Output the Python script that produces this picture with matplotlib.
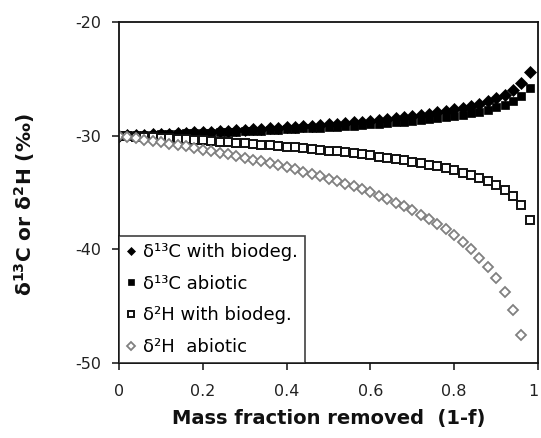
import matplotlib
matplotlib.use("Agg")
import matplotlib.pyplot as plt
from matplotlib.ticker import FuncFormatter
from matplotlib.transforms import ScaledTranslation

plt.rcParams['font.family'] = ['DejaVu Sans']
plt.rcParams['axes.unicode_minus'] = False
plt.rcParams['mathtext.default'] = 'bf'

# Mass fraction removed (1-f), step 0.02
mass_removed = [round(0.02 * i, 2) for i in range(50)]

# delta13C with biodegradation
c13_biodeg = [-30.00, -29.97, -29.94, -29.91, -29.88, -29.85, -29.82, -29.78, -29.75, -29.72,
              -29.68, -29.64, -29.61, -29.57, -29.53, -29.49, -29.45, -29.41, -29.36, -29.32,
              -29.27, -29.22, -29.17, -29.12, -29.06, -29.01, -28.95, -28.89, -28.83, -28.76,
              -28.69, -28.62, -28.54, -28.46, -28.37, -28.28, -28.18, -28.07, -27.96, -27.83,
              -27.70, -27.55, -27.38, -27.19, -26.97, -26.71, -26.39, -25.98, -25.40, -24.41]

# delta13C abiotic
c13_abiotic = [-30.00, -29.98, -29.96, -29.93, -29.91, -29.89, -29.86, -29.84, -29.81, -29.79,
               -29.76, -29.73, -29.70, -29.67, -29.65, -29.61, -29.58, -29.55, -29.52, -29.48,
               -29.45, -29.41, -29.37, -29.33, -29.29, -29.25, -29.21, -29.16, -29.11, -29.06,
               -29.01, -28.95, -28.90, -28.83, -28.77, -28.70, -28.63, -28.55, -28.46, -28.36,
               -28.26, -28.15, -28.02, -27.88, -27.71, -27.51, -27.27, -26.96, -26.52, -25.78]

# delta2H with biodegradation
h2_biodeg = [-30.00, -30.04, -30.08, -30.12, -30.16, -30.20, -30.24, -30.29, -30.33, -30.38,
             -30.42, -30.47, -30.52, -30.57, -30.62, -30.68, -30.73, -30.79, -30.85, -30.91,
             -30.97, -31.03, -31.10, -31.17, -31.24, -31.32, -31.39, -31.48, -31.56, -31.65,
             -31.74, -31.84, -31.94, -32.05, -32.16, -32.29, -32.42, -32.56, -32.71, -32.88,
             -33.06, -33.26, -33.48, -33.74, -34.03, -34.37, -34.80, -35.35, -36.12, -37.43]

# delta2H abiotic (ends at 0.96)
h2_abiotic = [-30.00, -30.11, -30.22, -30.34, -30.45, -30.57, -30.70, -30.82, -30.95, -31.08,
              -31.22, -31.35, -31.50, -31.64, -31.79, -31.94, -32.10, -32.26, -32.43, -32.61,
              -32.78, -32.97, -33.16, -33.36, -33.56, -33.78, -34.00, -34.23, -34.47, -34.73,
              -34.99, -35.27, -35.57, -35.88, -36.21, -36.56, -36.94, -37.34, -37.78, -38.25,
              -38.77, -39.35, -39.99, -40.72, -41.56, -42.55, -43.76, -45.33, -47.54]

labels = ["δ¹³C with biodeg.", "δ¹³C abiotic", "δ²H with biodeg.", "δ²H  abiotic"]
x_ticks = [0, 0.2, 0.4, 0.6, 0.8, 1]
y_ticks = [-50, -40, -30, -20]

fig = plt.figure(figsize=(5.41, 4.38), dpi=100)
ax = fig.add_axes([0.22, 0.171, 0.7745, 0.779])

ax.plot(mass_removed, c13_biodeg, linestyle='none', marker='D', ms=6.0,
        mfc='black', mec='black', mew=0.5, label=labels[0])
ax.plot(mass_removed, c13_abiotic, linestyle='none', marker='s', ms=5.6,
        mfc='black', mec='black', mew=0.5, label=labels[1])
ax.plot(mass_removed, h2_biodeg, linestyle='none', marker='s', ms=6.2,
        mfc='white', mec='#111111', mew=1.4, label=labels[2])
ax.plot(mass_removed[:len(h2_abiotic)], h2_abiotic, linestyle='none', marker='D', ms=5.6,
        mfc='white', mec='#808080', mew=1.3, label=labels[3])

ax.set_xlim(0, 1)
ax.set_ylim(-50, -20)
ax.set_xticks(x_ticks)
ax.set_yticks(y_ticks)
ax.xaxis.set_major_formatter(FuncFormatter(lambda v, p: f"{v:g}"))
ax.tick_params(direction='out', length=5, width=1.2, labelsize=11.5,
               colors='#222222')
ax.tick_params(axis='x', pad=10)
ax.tick_params(axis='y', pad=8)

# keep the "1" at the right edge inside the figure
last = ax.get_xticklabels()[-1]
last.set_transform(last.get_transform() + ScaledTranslation(-3 / 72, 0, fig.dpi_scale_trans))

for s in ax.spines.values():
    s.set_linewidth(1.3)
    s.set_color('#111111')

ax.set_xlabel("Mass fraction removed  (1-f)", fontsize=14, fontweight='bold',
              color='#111111')
ax.xaxis.set_label_coords(0.5, -0.135)
ax.set_ylabel("δ$^{13}$C or δ$^{2}$H (‰)", fontsize=14.5, fontweight='bold', color='#111111')
ax.yaxis.set_label_coords(-0.196, 0.463)

leg = ax.legend(loc='lower left', borderaxespad=0, fontsize=13, frameon=True,
                fancybox=False, handlelength=0.5, handletextpad=0.45,
                borderpad=0.4, labelspacing=0.75, markerscale=0.75)
leg.get_frame().set_edgecolor('#111111')
leg.get_frame().set_linewidth(1.2)

fig.savefig("out.png", dpi=100)
